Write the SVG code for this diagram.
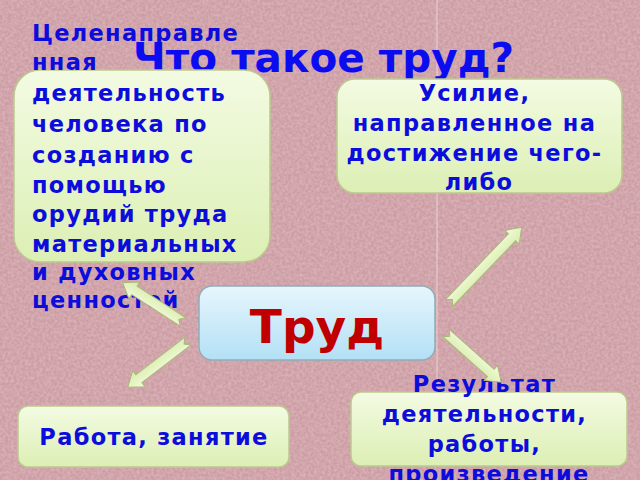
<svg xmlns="http://www.w3.org/2000/svg" width="640" height="480" viewBox="0 0 640 480">
<defs>
<linearGradient id="gGreen" x1="0" y1="0" x2="0" y2="1">
<stop offset="0" stop-color="#f3fbe2"/>
<stop offset="1" stop-color="#dcefb4"/>
</linearGradient>
<linearGradient id="gBlue" x1="0" y1="0" x2="0" y2="1">
<stop offset="0" stop-color="#e6f6fd"/>
<stop offset="1" stop-color="#b3e0f5"/>
</linearGradient>
<linearGradient id="gArrow" x1="0" y1="0" x2="0" y2="1">
<stop offset="0" stop-color="#f4fbdc"/>
<stop offset="1" stop-color="#d6ecaa"/>
</linearGradient>
<filter id="tex" x="0" y="0" width="1" height="1">
<feTurbulence type="fractalNoise" baseFrequency="0.35" numOctaves="3" seed="3" result="n"/>
<feColorMatrix in="n" type="matrix" values="0 0 0 0 1  0 0 0 0 0.95  0 0 0 0 0.96  0 0 0 0.35 -0.1" result="w"/>
<feComposite in="w" in2="SourceGraphic" operator="over"/>
</filter>
</defs>
<style>
.box{fill:url(#gGreen);stroke:#bcc98f;stroke-width:1.5}
.center{fill:url(#gBlue);stroke:#93acb8;stroke-width:1.5}
.t{font-family:"DejaVu Sans",sans-serif;font-weight:bold;fill:#0c0cdc;font-size:22.5px;letter-spacing:1.3px}
.c{text-anchor:middle}
.title{font-family:"DejaVu Sans",sans-serif;font-weight:bold;fill:#0c0cf0;font-size:40.5px}
.main{font-family:"DejaVu Sans",sans-serif;font-weight:bold;fill:#c00000;font-size:47px;text-anchor:middle}
.arrow{fill:url(#gArrow);stroke:#aab87a;stroke-width:1}
</style>
<rect width="640" height="480" fill="#cd9ca3" filter="url(#tex)"/>
<line x1="437" y1="0" x2="437" y2="380" stroke="#ead2d6" stroke-width="1"/>

<g id="title"><text class="title" x="133" y="72">Что такое труд?</text></g>

<g id="node-definition1">
<rect class="box" x="14" y="70" width="256" height="192" rx="26"/>
<text class="t" x="32">
<tspan x="32" y="41">Целенаправле</tspan>
<tspan x="32" y="70">нная</tspan>
<tspan x="32" y="101">деятельность</tspan>
<tspan x="32" y="132">человека по</tspan>
<tspan x="32" y="163">созданию с</tspan>
<tspan x="32" y="193">помощью</tspan>
<tspan x="32" y="222">орудий труда</tspan>
<tspan x="32" y="252">материальных</tspan>
<tspan x="32" y="280">и духовных</tspan>
<tspan x="32" y="308">ценностей</tspan>
</text>
</g>

<g id="node-definition2">
<rect class="box" x="337" y="79" width="285" height="114" rx="18"/>
<text class="t c">
<tspan x="479" y="101">Усилие,</tspan>
<tspan x="479" y="131">направленное на</tspan>
<tspan x="479" y="161">достижение чего-</tspan>
<tspan x="479" y="190">либо</tspan>
</text>
</g>

<g id="node-trud">
<rect class="center" x="199" y="286" width="236" height="74" rx="13"/>
<text class="main" x="317" y="343">Труд</text>
</g>

<g id="node-definition3">
<rect class="box" x="18" y="406" width="271" height="61" rx="10"/>
<text class="t c" x="154" y="445">Работа, занятие</text>
</g>

<g id="node-definition4">
<rect class="box" x="351" y="392" width="276" height="74" rx="10"/>
<text class="t c">
<tspan x="489" y="392">Результат</tspan>
<tspan x="489" y="422">деятельности,</tspan>
<tspan x="489" y="452">работы,</tspan>
<tspan x="489" y="482">произведение</tspan>
</text>
</g>

<g id="connectors">
<path class="arrow" transform="translate(183,322) rotate(-147)" d="M0,-5 L58,-5 L58,-10 L72,0 L58,10 L58,5 L0,5 L5,0 Z"/>
<path class="arrow" transform="translate(188,341) rotate(142.5)" d="M0,-5 L62,-5 L62,-10 L76,0 L62,10 L62,5 L0,5 L5,0 Z"/>
<path class="arrow" transform="translate(449,303) rotate(-46.2)" d="M0,-5 L91,-5 L91,-10 L105,0 L91,10 L91,5 L0,5 L5,0 Z"/>
<path class="arrow" transform="translate(446,333) rotate(41.7)" d="M0,-5 L60,-5 L60,-10 L74,0 L60,10 L60,5 L0,5 L5,0 Z"/>
</g>
</svg>
